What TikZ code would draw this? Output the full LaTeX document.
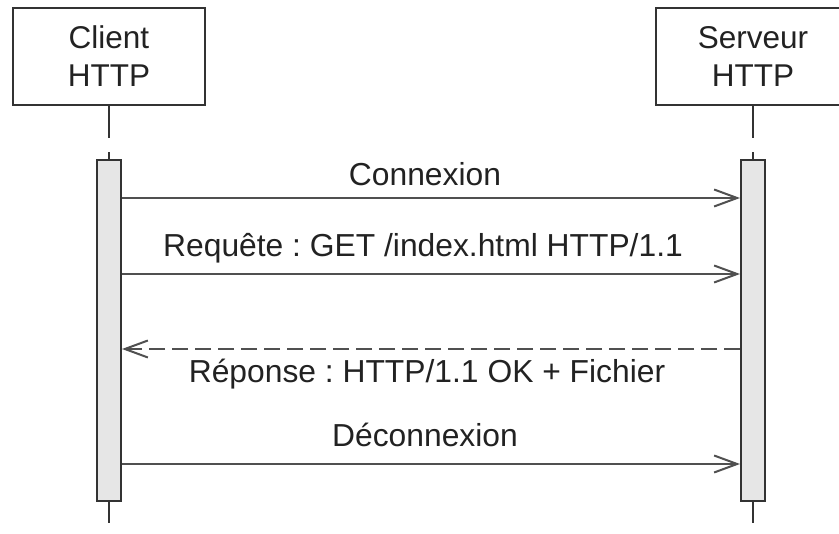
\documentclass[tikz,border=0pt]{standalone}
\usepackage{fontspec}
\setmainfont{Liberation Sans}
\usetikzlibrary{arrows.meta}
\definecolor{boxline}{HTML}{333333}
\definecolor{msgline}{HTML}{505050}
\definecolor{barfill}{HTML}{E6E6E6}
\definecolor{txt}{HTML}{222222}
\frenchspacing
\begin{document}
\begin{tikzpicture}[x=1pt,y=-1pt,
  actor/.style={draw=boxline,line width=2pt,fill=white,minimum height=97pt,
    align=center,text=txt,font=\fontsize{31.5}{38}\selectfont,inner sep=0pt},
  actbar/.style={draw=boxline,line width=2pt,fill=barfill,minimum width=24pt,
    minimum height=341pt,inner sep=0pt},
  lifeln/.style={draw=boxline,line width=1.6pt},
  msg/.style={draw=msgline,line width=2pt,
    -{Straight Barb[length=23pt,width=17pt]}},
  reply/.style={msg,dash pattern=on 16pt off 7pt},
  lbl/.style={anchor=base,text=txt,font=\fontsize{31.8}{38}\selectfont,inner sep=0pt}]
\useasboundingbox (0,0) rectangle (839,534);
\clip (0,0) rectangle (839,534);
\fill[white] (0,0) rectangle (839,534);
% actors
\node[actor,minimum width=192pt] (client) at (109,56.5) {Client\\HTTP};
\node[actor,minimum width=194pt] (server) at (753,56.5) {Serveur\\HTTP};
% lifelines
\draw[lifeln] (client.south) -- ++(0,32) coordinate (cl1);
\draw[lifeln] (server.south) -- ++(0,32) coordinate (sl1);
\node[actbar] (cbar) at (109,330.5) {};
\node[actbar] (sbar) at (753,330.5) {};
\draw[lifeln] (cbar.north) -- ++(0,-7) coordinate (cl2);
\draw[lifeln] (sbar.north) -- ++(0,-7) coordinate (sl2);
\draw[lifeln] (cbar.south) -- ++(0,21) coordinate (cl3);
\draw[lifeln] (sbar.south) -- ++(0,21) coordinate (sl3);
% message rows
\coordinate (r1) at (0,198);
\coordinate (r2) at (0,274);
\coordinate (r3) at (0,349);
\coordinate (r4) at (0,464);
\draw[msg] (cbar.east |- r1) -- (sbar.west |- r1);
\draw[msg] (cbar.east |- r2) -- (sbar.west |- r2);
\draw[reply] (sbar.west |- r3) -- (cbar.east |- r3);
\draw[msg] (cbar.east |- r4) -- (sbar.west |- r4);
% labels
\node[lbl] (l1) at (425,186) {Connexion};
\node[lbl] (l2) at (423,257) {Requête : GET /index.html HTTP/1.1};
\node[lbl] (l3) at (427,383) {Réponse : HTTP/1.1 OK + Fichier};
\node[lbl] (l4) at (425,447) {Déconnexion};
\end{tikzpicture}
\end{document}
